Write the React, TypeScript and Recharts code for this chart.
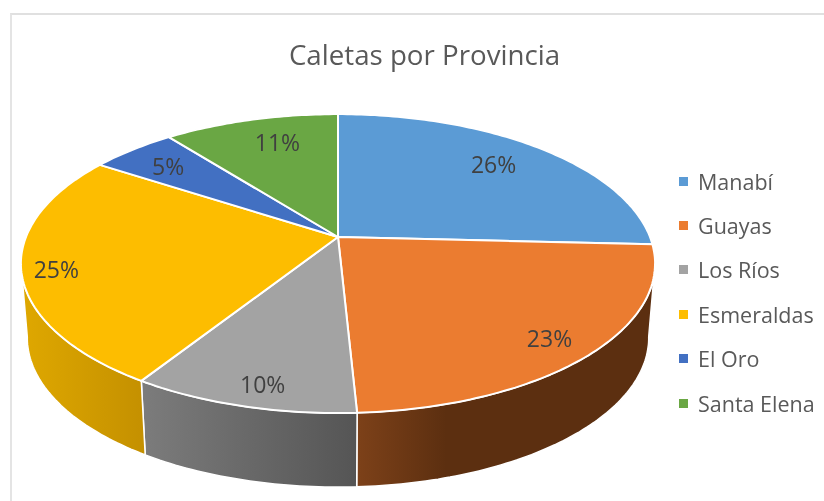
import { Legend, Pie, PieChart } from "recharts";

const provinces = ["Manabí", "Guayas", "Los Ríos", "Esmeraldas", "El Oro", "Santa Elena"];
const shares = [25.8, 23.4, 9.8, 25.2, 5.2, 10.6];
const topColors = ["#5b9bd5", "#eb7c30", "#a3a3a3", "#fdbd00", "#4270c2", "#6aa744"];
const wallColors = [
  ["#3f6c95", "#3f6c95"],
  ["#7d4119", "#5c2f10"],
  ["#7c7c7c", "#555555"],
  ["#dfa800", "#c49000"],
  ["#2f5089", "#2f5089"],
  ["#4e7931", "#4e7931"],
];
// where each wall's gradient reaches its dark end, in percent of the wall's width
const wallFade = [100, 30, 100, 100, 100, 100];
// where each percentage sits: share of the radius, and a small turn off the slice's middle
const labelRadius = [0.77, 0.87, 0.89, 0.895, 0.795, 0.77];
const labelTurn = [-1.2, 1.2, -1.5, -2, -1, 2.5];

const topData = provinces.map((name, i) => ({ name, value: shares[i], fill: topColors[i] }));
const wallData = provinces.map((name, i) => ({ name, value: shares[i], fill: `url(#wall-${i})` }));

const WIDTH = 824;
const HEIGHT = 501;
const TILT = 0.464; // vertical squash of the disc
const PERSPECTIVE = 0.178; // the far edge of the disc is drawn smaller
const DEPTH = 74;
const BOTTOM_SCALE = 0.98;
const FRONT_FROM = 100; // the side wall only shows between these clock angles
const FRONT_TO = 260;

// polar position on the flat disc -> tilted picture position; theta runs clockwise from 12 o'clock
function project(cx: number, cy: number, radius: number, theta: number, fraction = 1) {
  const t = (theta * Math.PI) / 180;
  const w = 1 + PERSPECTIVE * fraction * Math.cos(t);
  return {
    x: cx + (radius * fraction * Math.sin(t)) / w,
    y: cy - (radius * TILT * fraction * Math.cos(t)) / w,
  };
}

function arcPoints(from: number, to: number, at: (theta: number) => { x: number; y: number }) {
  const steps = Math.max(1, Math.ceil(Math.abs(to - from)));
  const points = [];
  for (let i = 0; i <= steps; i++) points.push(at(from + ((to - from) * i) / steps));
  return points;
}

const toPath = (points: { x: number; y: number }[]) =>
  points.map((p, i) => `${i ? "L" : "M"}${p.x.toFixed(1)},${p.y.toFixed(1)}`).join(" ");

function TopSlice(props: any) {
  const { cx, cy, outerRadius, startAngle, endAngle, fill } = props;
  const arc = arcPoints(90 - startAngle, 90 - endAngle, (a) => project(cx, cy, outerRadius, a));
  return (
    <path
      d={`M${cx},${cy} ${toPath(arc).replace("M", "L")} Z`}
      fill={fill}
      stroke="#fff"
      strokeWidth={2}
      strokeLinejoin="round"
    />
  );
}

function WallSlice(props: any) {
  const { cx, cy, outerRadius, startAngle, endAngle, fill } = props;
  const from = Math.max(90 - startAngle, FRONT_FROM);
  const to = Math.min(90 - endAngle, FRONT_TO);
  if (to <= from) return null;
  const upper = arcPoints(from, to, (a) => project(cx, cy, outerRadius, a));
  const lower = arcPoints(to, from, (a) => {
    const p = project(cx, cy, outerRadius, a);
    return { x: cx + (p.x - cx) * BOTTOM_SCALE, y: p.y + DEPTH };
  });
  return <path d={`${toPath(upper)} ${toPath(lower).replace("M", "L")} Z`} fill={fill} stroke="#fff" strokeWidth={1.5} />;
}

function PercentLabel(props: any) {
  const { cx, cy, outerRadius, midAngle, percent, index } = props;
  const p = project(cx, cy, outerRadius, 90 - midAngle + labelTurn[index], labelRadius[index]);
  return (
    <text x={p.x} y={p.y - 1} textAnchor="middle" dominantBaseline="central" fontSize={23} fill="#404040" fontFamily="Open Sans">
      {`${Math.round(percent * 100)}%`}
    </text>
  );
}

function LegendList({ payload }: any) {
  const items = (payload ?? []).filter((item: any) => item.type !== "none");
  return (
    <div style={{ fontFamily: "Open Sans", fontSize: 21.5, color: "#595959" }}>
      {items.map((item: any) => (
        <div key={item.value} style={{ display: "flex", alignItems: "center", height: 44.4 }}>
          <span style={{ width: 9, height: 9, background: item.color, marginRight: 10 }} />
          {item.value}
        </div>
      ))}
    </div>
  );
}

export default function App() {
  return (
    <div style={{ position: "absolute", left: 0, top: 0, width: WIDTH, height: HEIGHT, background: "#fff", overflow: "hidden" }}>
      <div
        style={{
          position: "absolute",
          left: 10,
          top: 13,
          width: WIDTH,
          height: HEIGHT,
          borderLeft: "2px solid #e4e4e4",
          borderTop: "2px solid #e0e0e0",
        }}
      />
      <div style={{ position: "absolute", left: 0, top: 0, filter: "blur(0.4px)" }}>
        <PieChart width={WIDTH} height={HEIGHT} margin={{ top: 0, right: 0, bottom: 0, left: 0 }}>
          <defs>
            {wallColors.map((c, i) => (
              <linearGradient key={i} id={`wall-${i}`} x1="0" y1="0" x2="1" y2="0">
                <stop offset="0%" stopColor={c[0]} />
                <stop offset={`${wallFade[i]}%`} stopColor={c[1]} />
              </linearGradient>
            ))}
          </defs>
          <text x={424.5} y={54} textAnchor="middle" dominantBaseline="central" fontSize={27.7} fill="#595959" fontFamily="Open Sans">
            Caletas por Provincia
          </text>
          <Pie
            data={wallData}
            dataKey="value"
            nameKey="name"
            cx={338}
            cy={237}
            outerRadius={312}
            startAngle={90}
            endAngle={-270}
            legendType="none"
            shape={WallSlice}
            isAnimationActive={false}
          />
          <Pie
            data={topData}
            dataKey="value"
            nameKey="name"
            cx={338}
            cy={237}
            outerRadius={312}
            startAngle={90}
            endAngle={-270}
            shape={TopSlice}
            label={PercentLabel}
            labelLine={false}
            isAnimationActive={false}
          />
          <Legend
            content={LegendList}
            itemSorter={null}
            wrapperStyle={{ position: "absolute", left: 679, top: 159, width: 145, bottom: "auto" }}
          />
        </PieChart>
      </div>
    </div>
  );
}
